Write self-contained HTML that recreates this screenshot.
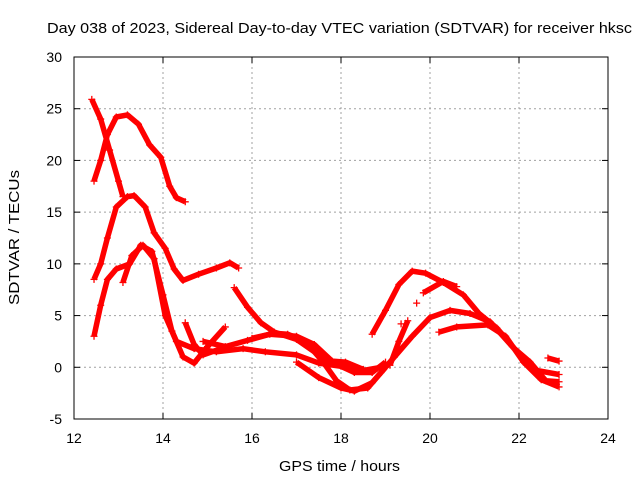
<!DOCTYPE html>
<html><head><meta charset="utf-8"><style>
body{margin:0;background:#fff}
svg{display:block;font-family:"Liberation Sans",sans-serif}
</style></head><body>
<svg id="chart" width="640" height="480" viewBox="0 0 640 480" xmlns="http://www.w3.org/2000/svg">
<rect width="640" height="480" fill="#fff"/>
<text x="47" y="33" font-size="15" textLength="585" lengthAdjust="spacingAndGlyphs" fill="#000">Day 038 of 2023, Sidereal Day-to-day VTEC variation (SDTVAR) for receiver hksc</text>
<text x="279" y="471" font-size="15" textLength="121" lengthAdjust="spacingAndGlyphs">GPS time / hours</text>
<text transform="translate(19,305) rotate(-90)" font-size="15" textLength="135" lengthAdjust="spacingAndGlyphs">SDTVAR / TECUs</text>
<g id="grid"></g>
<g id="series"></g>
<rect x="74" y="57" width="534" height="362" fill="none" stroke="#000" stroke-width="1"/>
<g id="ticks"></g>
</svg>
<script>
const xTicks=[12,14,16,18,20,22,24];
const yTicks=[-5,0,5,10,15,20,25,30];
const track1=[[12.4,25.9],[12.6,24],[12.8,21],[13.0,18],[13.1,16.5]];
const track2=[[12.45,18],[12.6,20],[12.75,22.5],[12.95,24.2],[13.2,24.4],[13.45,23.5],[13.7,21.5],[13.95,20.3],[14.15,17.5],[14.3,16.4],[14.5,16]];
const track3=[[12.45,8.5],[12.6,10],[12.75,12.5],[12.95,15.5],[13.2,16.5],[13.35,16.6],[13.6,15.5],[13.8,13],[14.05,11.5],[14.25,9.5],[14.45,8.4],[14.8,9],[15.2,9.6],[15.5,10.1],[15.7,9.6]];
const track4=[[12.45,3],[12.6,6],[12.75,8.5],[12.95,9.5],[13.25,10],[13.5,11.8],[13.75,11.2],[14,7],[14.2,3.5],[14.45,1],[14.7,0.4],[15,2],[15.4,3.9]];
const track5=[[13.1,8.2],[13.3,10.8],[13.55,11.8],[13.8,10.5],[14.05,5],[14.3,2.5],[14.7,1.8],[15.2,1.5],[15.8,1.8],[16.3,1.5],[17,1.2],[17.5,0.4],[18,0.1],[18.5,-0.3],[18.9,0]];
const track6=[[14.5,4.3],[14.7,2.2],[14.9,1.2],[15.3,1.8]];
const track7=[[15.6,7.7],[15.9,5.8],[16.2,4.3],[16.5,3.4],[17,2.7],[17.5,1.2],[17.9,0.3],[18.3,-0.5],[18.7,-0.5],[19,0.5]];
const track8=[[16,2.8],[16.5,3.3],[16.8,3.2],[17.2,2.5],[17.6,0.5],[17.9,-1.3],[18.2,-2.2],[18.6,-2],[18.9,-0.5],[19.2,1],[19.6,3],[20,4.8],[20.45,5.5],[20.9,5.2],[21.35,4.4],[21.85,2],[22.4,-0.3],[22.9,-0.7]];
const track9=[[18.7,3.2],[19,5.5],[19.3,8],[19.6,9.3],[19.9,9.1],[20.3,8.2],[20.75,7],[21.1,5.2],[21.5,3.8],[21.9,1.8],[22.25,0.5],[22.6,-1.3],[22.9,-1.4]];
const track10=[[19.85,7.2],[20.3,8.3],[20.6,7.8]];
const track11=[[20.2,3.4],[20.6,3.9],[21.3,4.1],[21.7,3],[22.1,0.5],[22.5,-1.2],[22.9,-1.9]];
const track12=[[22.65,0.9],[22.9,0.6]];
const track13=[[14.9,2.5],[15.4,2],[15.9,2.6],[16.4,3.2],[17,3],[17.4,2.2],[17.8,0.6],[18.1,0.5],[18.5,-0.2]];
const track14=[[17,0.5],[17.5,-1],[18,-2],[18.3,-2.3],[18.7,-1.5],[19,0]];
const track15=[[19.1,0.2],[19.3,2.5],[19.5,4.5]];
const isolated=[[19.7,6.2],[19.35,4.2]];
const tracks=[track1,track2,track3,track4,track5,track6,track7,track8,track9,track10,track11,track12,track13,track14,track15];

const NS="http://www.w3.org/2000/svg";
const X0=74,X1=608,Y0=419,Y1=57;
const sx=v=>X0+(v-12)/(24-12)*(X1-X0);
const sy=v=>Y0-(v+5)/35*(Y0-Y1);
const grid=document.getElementById('grid'),ticks=document.getElementById('ticks'),series=document.getElementById('series');
function mk(tag,attrs,parent){const e=document.createElementNS(NS,tag);for(const k in attrs)e.setAttribute(k,attrs[k]);parent.appendChild(e);return e;}
xTicks.forEach(t=>{
  const x=sx(t);
  if(t>12&&t<24){const g=mk('line',{x1:x,x2:x,y1:Y1,y2:Y0,stroke:'#a0a0a0','stroke-dasharray':'2,3'},grid);
  
  }
  mk('line',{x1:x,x2:x,y1:Y0,y2:Y0-6,stroke:'#000'},ticks);
  mk('line',{x1:x,x2:x,y1:Y1,y2:Y1+6,stroke:'#000'},ticks);
  const l=mk('text',{x:x,y:Y0+24,'font-size':14,'text-anchor':'middle'},ticks);
  
  
  l.textContent=t;
});
yTicks.forEach(t=>{
  const y=sy(t);
  if(t>-5&&t<30){const g=mk('line',{x1:X0,x2:X1,y1:y,y2:y,stroke:'#a0a0a0','stroke-dasharray':'2,3'},grid);
  
  }
  mk('line',{x1:X0,x2:X0+6,y1:y,y2:y,stroke:'#000'},ticks);
  mk('line',{x1:X1,x2:X1-6,y1:y,y2:y,stroke:'#000'},ticks);
  const l=mk('text',{x:X0-12,y:y+5,'font-size':14,'text-anchor':'end'},ticks);
  
  
  l.textContent=t;
});
function plus(x,y,g){mk('path',{d:`M${x-3.5},${y}h7M${x},${y-3.5}v7`,stroke:'#f00','stroke-width':1.3,fill:'none'},g);}
tracks.forEach((tr,i)=>{
  const g=mk('g',{},series);
  
  
  const d=tr.map((p,j)=>(j?'L':'M')+sx(p[0]).toFixed(1)+','+sy(p[1]).toFixed(1)).join('');
  mk('path',{d:d,stroke:'#f00','stroke-width':5.5,fill:'none','stroke-linejoin':'round','stroke-linecap':'butt'},g);
  tr.forEach(p=>plus(sx(p[0]),sy(p[1]),g));
});
const gi=mk('g',{},series);


isolated.forEach(p=>plus(sx(p[0]),sy(p[1]),gi));
</script>
</body></html>
